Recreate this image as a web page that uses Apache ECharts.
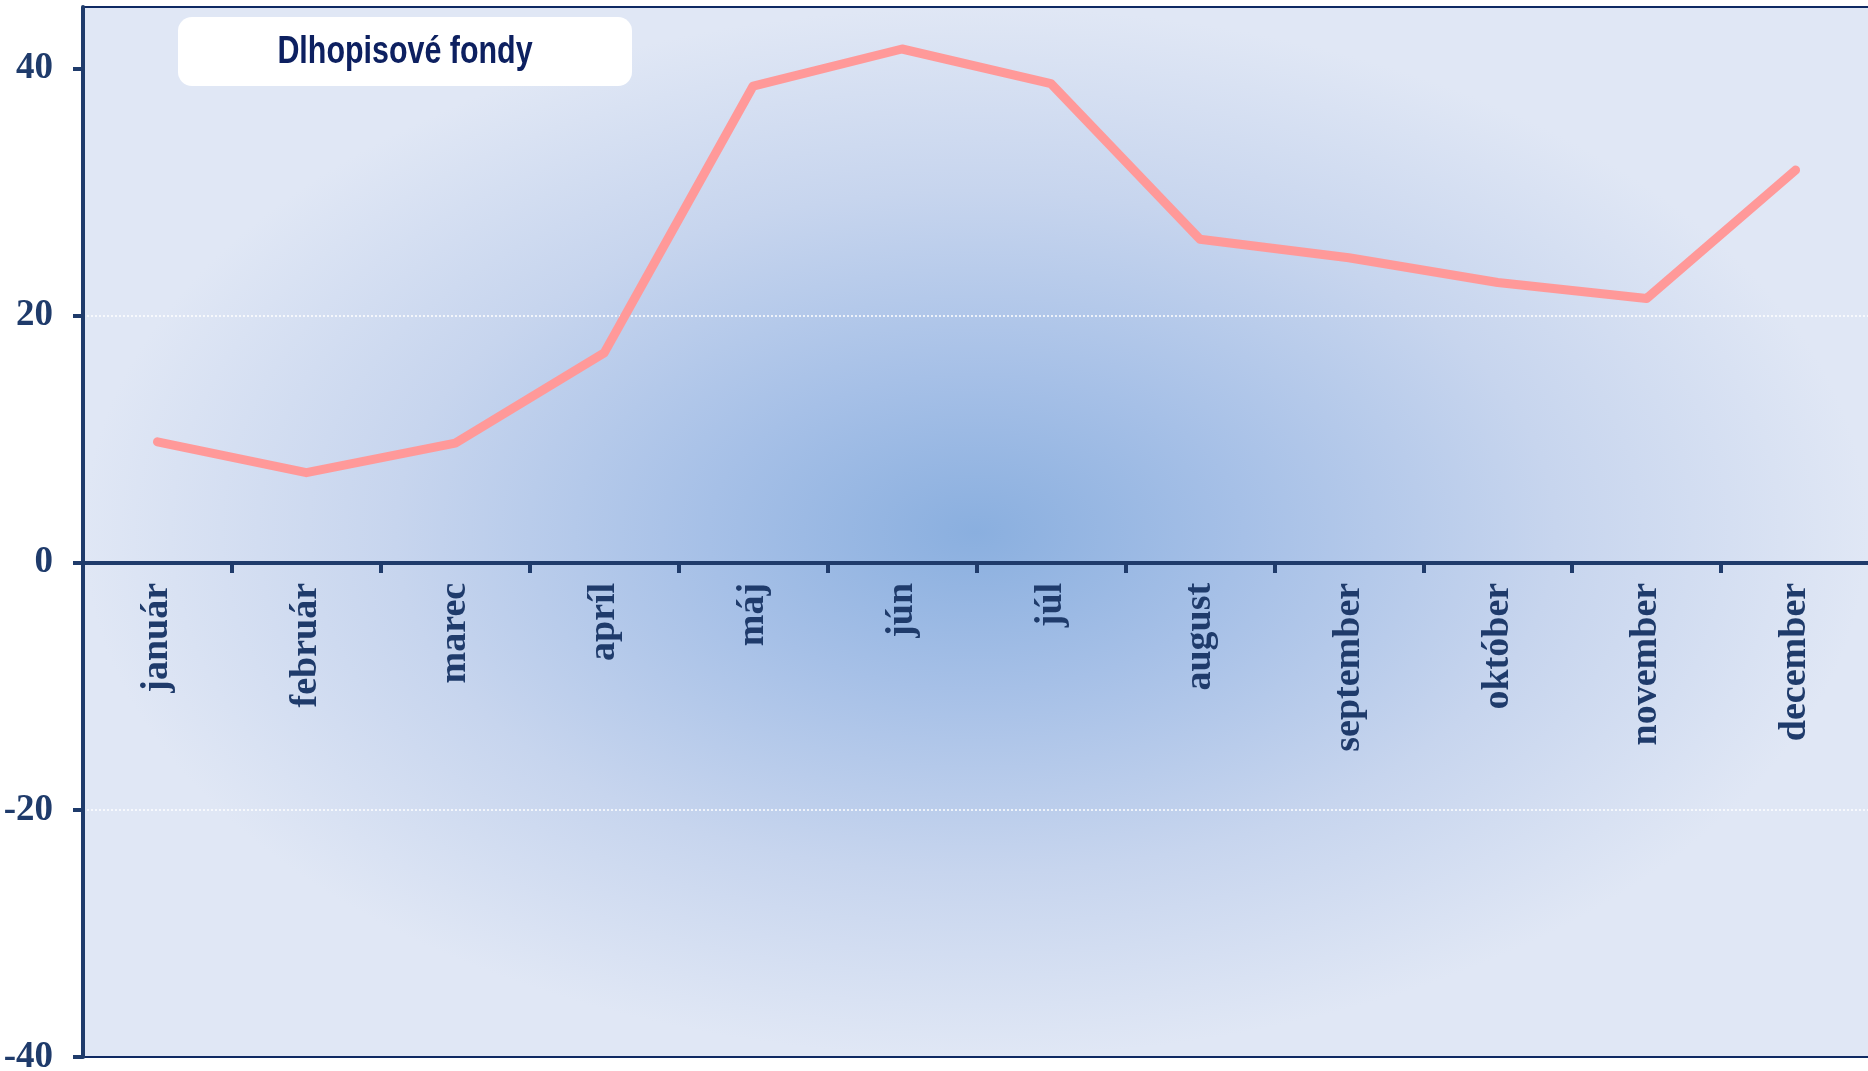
<!DOCTYPE html>
<html>
<head>
<meta charset="utf-8">
<script src="https://cdn.jsdelivr.net/npm/echarts@6/dist/echarts.min.js"></script>
<style>
  html, body { margin: 0; padding: 0; background: #fff; }
  #fondy { width: 1868px; height: 1071px; }
</style>
</head>
<body>
<div id="fondy"></div>
<script>
var mesiace = ['január', 'február', 'marec', 'apríl', 'máj', 'jún', 'júl', 'august', 'september', 'október', 'november', 'december'];
var hodnoty = [9.8, 7.3, 9.7, 17.0, 38.6, 41.6, 38.8, 26.2, 24.7, 22.7, 21.4, 31.8];
var yTicks = [-40, -20, 0, 20, 40];
var yMin = -40, yMax = 45;
var nazov = 'Dlhopisové fondy';

var navy = '#1f3b6b';
var myChart = echarts.init(document.getElementById('fondy'));

// plocha grafu
var gl = 83, gt = 7, gb = 14;
var gw = myChart.getWidth() - gl, gh = myChart.getHeight() - gt - gb;
// os x sedi na nule
var zeroOffset = -gh * (0 - yMin) / (yMax - yMin);

var option = {
  animation: false,
  backgroundColor: '#fff',
  grid: {
    left: gl, top: gt, right: -2, bottom: gb,
    outerBoundsMode: 'none',
    containLabel: false,
    show: true,
    backgroundColor: 'transparent',
    borderColor: '#0f2a63',
    borderWidth: 2
  },
  graphic: [
    {
      // pozadie - gradient od stredu
      type: 'rect',
      z: -10,
      x: gl, y: gt,
      scaleX: gw / gh,
      shape: { x: 0, y: 0, width: gh, height: gh },
      style: {
        fill: new echarts.graphic.RadialGradient(0.5, 0.5, 0.5, [
          { offset: 0, color: '#8aafdf' },
          { offset: 0.3, color: '#a6c0e7' },
          { offset: 0.65, color: '#c7d5ee' },
          { offset: 1, color: '#e0e7f5' }
        ])
      }
    },
    {
      type: 'rect',
      z: 10,
      shape: { x: 178, y: 17, width: 454, height: 69, r: 14 },
      style: { fill: '#ffffff' }
    },
    {
      type: 'text',
      z: 11,
      x: 405, y: 52,
      scaleX: 0.78,
      style: {
        text: nazov,
        font: 'bold 39px "Liberation Sans", Arial, sans-serif',
        fill: '#0d2060',
        align: 'center',
        verticalAlign: 'middle'
      }
    }
  ],
  xAxis: {
    type: 'category',
    data: mesiace,
    boundaryGap: true,
    offset: zeroOffset,
    axisLine: { onZero: false, lineStyle: { color: navy, width: 4 } },
    axisTick: { show: true, length: 10, lineStyle: { color: navy, width: 4 } },
    axisLabel: {
      rotate: 90,
      margin: 20,
      color: navy,
      fontFamily: '"Liberation Serif", "Times New Roman", serif',
      fontWeight: 'bold',
      fontSize: 38
    },
    splitLine: { show: false }
  },
  yAxis: {
    type: 'value',
    min: yMin,
    max: yMax,
    interval: 20,
    axisLine: { show: true, onZero: false, lineStyle: { color: navy, width: 4 } },
    axisTick: { show: true, length: 10, customValues: yTicks, lineStyle: { color: navy, width: 4 } },
    axisLabel: {
      customValues: yTicks,
      margin: 30,
      color: navy,
      fontFamily: '"Liberation Serif", "Times New Roman", serif',
      fontWeight: 'bold',
      fontSize: 37
    },
    splitLine: {
      show: true,
      showMinLine: false,
      showMaxLine: false,
      lineStyle: { color: 'rgba(255,255,255,0.75)', type: 'dotted', width: 2 }
    }
  },
  series: [
    {
      name: nazov,
      type: 'line',
      data: hodnoty,
      showSymbol: false,
      symbol: 'none',
      z: 5,
      lineStyle: { color: '#ff9999', width: 9, cap: 'round', join: 'round' }
    }
  ]
};
myChart.setOption(option);
window.onresize = myChart.resize;
</script>
</body>
</html>
